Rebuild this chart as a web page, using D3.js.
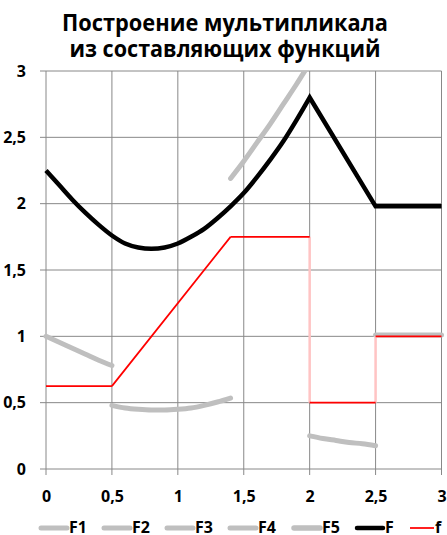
<!DOCTYPE html>
<html>
<head>
<meta charset="utf-8">
<script src="https://cdn.jsdelivr.net/npm/d3@7"></script>
<style>
  body { margin: 0; background: #fff; }
  text { font-family: "Open Sans", "Liberation Sans", sans-serif; font-weight: bold; fill: #000; }
</style>
</head>
<body>
<div id="chart"></div>
<script>
// component functions
const f1X = [0, 0.1, 0.2, 0.3, 0.4, 0.5]
const f1Y = [1.0, 0.955, 0.91, 0.865, 0.82, 0.78]

const f2X = [0.5, 0.6, 0.7, 0.8, 0.9, 1.0, 1.1, 1.2, 1.3, 1.4]
const f2Y = [0.48, 0.46, 0.45, 0.445, 0.445, 0.45, 0.46, 0.48, 0.505, 0.535]

const f3X = [1.4, 1.5, 1.6, 1.7, 1.8, 1.9, 2.0]
const f3Y = [2.19, 2.32, 2.46, 2.6, 2.75, 2.9, 3.06]

const f4X = [2.0, 2.1, 2.2, 2.3, 2.4, 2.5]
const f4Y = [0.25, 0.23, 0.215, 0.2, 0.19, 0.175]

const f5X = [2.5, 3.0]
const f5Y = [1.01, 1.01]

// multiplicand F
const bigX = [0, 0.1, 0.2, 0.3, 0.4, 0.5, 0.6, 0.7, 0.8, 0.9, 1.0, 1.1, 1.2, 1.3, 1.4, 1.5, 1.6, 1.7, 1.8, 1.9, 2.0, 2.5, 3.0]
const bigY = [2.25, 2.14, 2.03, 1.93, 1.84, 1.76, 1.7, 1.67, 1.66, 1.67, 1.7, 1.75, 1.81, 1.89, 1.98, 2.08, 2.2, 2.33, 2.47, 2.63, 2.8, 1.98, 1.98]

// step function f
const smallX = [0, 0.5, 1.4, 2.0, 2.0, 2.5, 2.5, 3.0]
const smallY = [0.625, 0.625, 1.75, 1.75, 0.5, 0.5, 1.0, 1.0]

const xTicks = [0, 0.5, 1, 1.5, 2, 2.5, 3]
const yTicks = [0, 0.5, 1, 1.5, 2, 2.5, 3]
const titleLines = ['Построение мультипликала', 'из составляющих функций']
const legendNames = ['F1', 'F2', 'F3', 'F4', 'F5', 'F', 'f']

const w = 447
const h = 535

const svg = d3.select('#chart')
  .append('svg')
  .attr('width', w)
  .attr('height', h)

const x = d3.scaleLinear().domain([0, 3]).range([46, 441.5])
const y = d3.scaleLinear().domain([0, 3]).range([469, 71])

const fmt = (d) => String(d).replace('.', ',')

// title
const titleWidth = [326, 311]
svg.selectAll('.title')
  .data(titleLines)
  .enter()
  .append('text')
  .attr('class', 'title')
  .attr('x', 225)
  .attr('y', (d, i) => 31 + i * 26)
  .attr('text-anchor', 'middle')
  .attr('textLength', (d, i) => titleWidth[i])
  .attr('lengthAdjust', 'spacingAndGlyphs')
  .style('font-size', '23px')
  .text((d) => d)

// grid
const grid = svg.append('g')
grid.selectAll('.hgrid')
  .data(yTicks)
  .enter()
  .append('line')
  .attr('x1', x(0) - 6)
  .attr('x2', x(3))
  .attr('y1', (d) => y(d))
  .attr('y2', (d) => y(d))
  .attr('stroke', '#888')
  .attr('stroke-width', 1)

grid.selectAll('.vgrid')
  .data(xTicks)
  .enter()
  .append('line')
  .attr('x1', (d) => x(d))
  .attr('x2', (d) => x(d))
  .attr('y1', y(3))
  .attr('y2', y(0) + 6)
  .attr('stroke', '#888')
  .attr('stroke-width', 1)

// axes labels
svg.append('g')
  .attr('transform', 'translate(0,' + (y(0) + 19) + ')')
  .call(d3.axisBottom(x).tickValues(xTicks).tickSize(0).tickFormat(fmt))
  .call((g) => g.select('.domain').remove())
  .selectAll('text')
  .style('font-size', '16px')
  .attr('fill', '#000')

svg.append('g')
  .attr('transform', 'translate(' + (x(0) - 17) + ',0)')
  .call(d3.axisLeft(y).tickValues(yTicks).tickSize(0).tickFormat(fmt))
  .call((g) => g.select('.domain').remove())
  .selectAll('text')
  .style('font-size', '16px')
  .attr('fill', '#000')

svg.append('clipPath')
  .attr('id', 'clip')
  .append('rect')
  .attr('x', x(0) - 5)
  .attr('y', y(3))
  .attr('width', x(3) - x(0) + 10)
  .attr('height', y(0) - y(3))

const plot = svg.append('g').attr('clip-path', 'url(#clip)')

const line = d3.line()
  .x((d) => x(d[0]))
  .y((d) => y(d[1]))
  .curve(d3.curveMonotoneX)

const zip = (xs, ys) => xs.map((v, i) => [v, ys[i]])

const components = [[f1X, f1Y], [f2X, f2Y], [f3X, f3Y], [f4X, f4Y], [f5X, f5Y]]

components.forEach((c) => {
  plot.append('path')
    .attr('d', line(zip(c[0], c[1])))
    .attr('fill', 'none')
    .attr('stroke', '#bfbfbf')
    .attr('stroke-width', 5)
    .attr('stroke-linecap', 'round')
})

// F: smooth up to the peak, straight after it
const bigPts = zip(bigX, bigY)
plot.append('path')
  .attr('d', line(bigPts.slice(0, 21)) + 'L' + bigPts.slice(21).map((d) => x(d[0]) + ',' + y(d[1])).join('L'))
  .attr('fill', 'none')
  .attr('stroke', '#000')
  .attr('stroke-width', 4.5)
  .attr('stroke-linejoin', 'miter')

// step function: vertical jumps in pale red, drawn first
const fPts = zip(smallX, smallY)
const fSegs = d3.pairs(fPts)
const jumps = fSegs.filter((s) => s[0][0] === s[1][0])
const flats = fSegs.filter((s) => s[0][0] !== s[1][0])

plot.selectAll('.jump')
  .data(jumps)
  .enter()
  .append('line')
  .attr('x1', (s) => x(s[0][0]))
  .attr('y1', (s) => y(s[0][1]))
  .attr('x2', (s) => x(s[1][0]))
  .attr('y2', (s) => y(s[1][1]))
  .attr('stroke', '#ffc4c4')
  .attr('stroke-width', 2.5)

plot.append('path')
  .attr('d', flats.map((s) => 'M' + x(s[0][0]) + ',' + y(s[0][1]) + 'L' + x(s[1][0]) + ',' + y(s[1][1])).join(''))
  .attr('fill', 'none')
  .attr('stroke', '#ff0000')
  .attr('stroke-width', 1.75)

// legend
const legendX = [39, 102, 165, 228, 292, 355, 408]
const legendStyle = [
  ['#bfbfbf', 5], ['#bfbfbf', 5], ['#bfbfbf', 5], ['#bfbfbf', 5], ['#bfbfbf', 5.5],
  ['#000', 4.5], ['#ff0000', 1.75]
]
const legend = svg.selectAll('.legend')
  .data(legendNames)
  .enter()
  .append('g')
  .attr('transform', (d, i) => 'translate(' + legendX[i] + ',528)')

legend.append('line')
  .attr('x1', 2)
  .attr('x2', (d, i) => i === 6 ? 26 : 28)
  .attr('stroke', (d, i) => legendStyle[i][0])
  .attr('stroke-width', (d, i) => legendStyle[i][1])
  .attr('stroke-linecap', (d, i) => i < 6 ? 'round' : 'butt')

legend.append('text')
  .attr('x', (d, i) => i === 6 ? 27 : 30)
  .attr('y', 5)
  .style('font-size', '16px')
  .text((d) => d)
</script>
</body>
</html>
